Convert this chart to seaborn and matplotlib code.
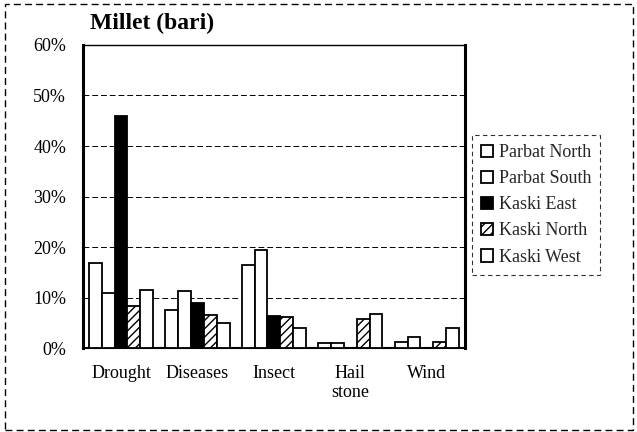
import matplotlib
matplotlib.use("Agg")
import matplotlib.pyplot as plt
from matplotlib.patches import Rectangle
from matplotlib.ticker import PercentFormatter
import pandas as pd
import seaborn as sns

categories = ["Drought", "Diseases", "Insect", "Hail\nstone", "Wind"]
regions = ["Parbat North", "Parbat South", "Kaski East", "Kaski North", "Kaski West"]
parbat_north = [16.8, 7.5, 16.4, 1.0, 1.3]
parbat_south = [11.0, 11.3, 19.4, 1.0, 2.3]
kaski_east = [46.0, 8.9, 6.4, 0.0, 0.0]
kaski_north = [8.3, 6.5, 6.1, 5.8, 1.3]
kaski_west = [11.5, 5.0, 4.0, 6.8, 4.0]

series = [parbat_north, parbat_south, kaski_east, kaski_north, kaski_west]
df = pd.DataFrame([
    {"cause": c, "region": r, "share": v}
    for r, vals in zip(regions, series) for c, v in zip(categories, vals)
])

sns.set_theme(style="white")
plt.rcParams["font.family"] = ["Liberation Serif", "DejaVu Serif"]
plt.rcParams["hatch.linewidth"] = 1.0

fig = plt.figure(figsize=(6.37, 4.32), dpi=100)
ax = fig.add_axes([0.130, 0.194, 0.600, 0.702])

fills = ["white", "white", "black", "white", "white"]
hatches = ["", "", "", "////", ""]
sns.barplot(data=df, x="cause", y="share", hue="region", hue_order=regions,
            palette=fills, edgecolor="black", linewidth=1.3, width=0.84,
            ax=ax, legend=False, zorder=3)
for cont, h in zip(ax.containers, hatches):
    for bar in cont:
        bar.set_hatch(h)

ax.set_ylim(0, 60)
ax.set_yticks(range(0, 61, 10))
ax.yaxis.set_major_formatter(PercentFormatter(decimals=0))
ax.grid(axis="y", color="black", linestyle=(0, (6, 3)), linewidth=0.7, zorder=0)
ax.set_axisbelow(True)
ax.set_xlabel(""); ax.set_ylabel("")
ax.tick_params(axis="both", length=0, labelsize=13, colors="black")
ax.tick_params(axis="x", pad=12)
ax.tick_params(axis="y", pad=12)
for s in ax.spines.values():
    s.set_color("black")
ax.spines["left"].set_linewidth(2.2)
ax.spines["right"].set_linewidth(2.2)
ax.spines["bottom"].set_linewidth(1.5)
ax.spines["top"].set_linewidth(1.0)

handles = [Rectangle((0, 0), 1, 1, facecolor=f, edgecolor="black", hatch=h, linewidth=1.3)
           for f, h in zip(fills, hatches)]
leg = fig.legend(handles, regions, loc="upper left", bbox_to_anchor=(0.735, 0.695),
                 fontsize=13, frameon=True, fancybox=False, handlelength=0.7,
                 handleheight=0.7, handletextpad=0.3, labelspacing=0.5,
                 borderpad=0.5, borderaxespad=0.2)
leg.get_frame().set_edgecolor("black")
leg.get_frame().set_linestyle((0, (4, 3)))
leg.get_frame().set_linewidth(0.8)

fig.text(0.142, 0.932, "Millet (bari)", fontsize=17, fontweight="bold", color="black")
fig.patches.append(Rectangle((0.008, 0.005), 0.985, 0.985, transform=fig.transFigure,
                             fill=False, edgecolor="black", linewidth=1.0,
                             linestyle=(0, (5, 3))))

fig.savefig("out.png", dpi=100)
plt.close(fig)
